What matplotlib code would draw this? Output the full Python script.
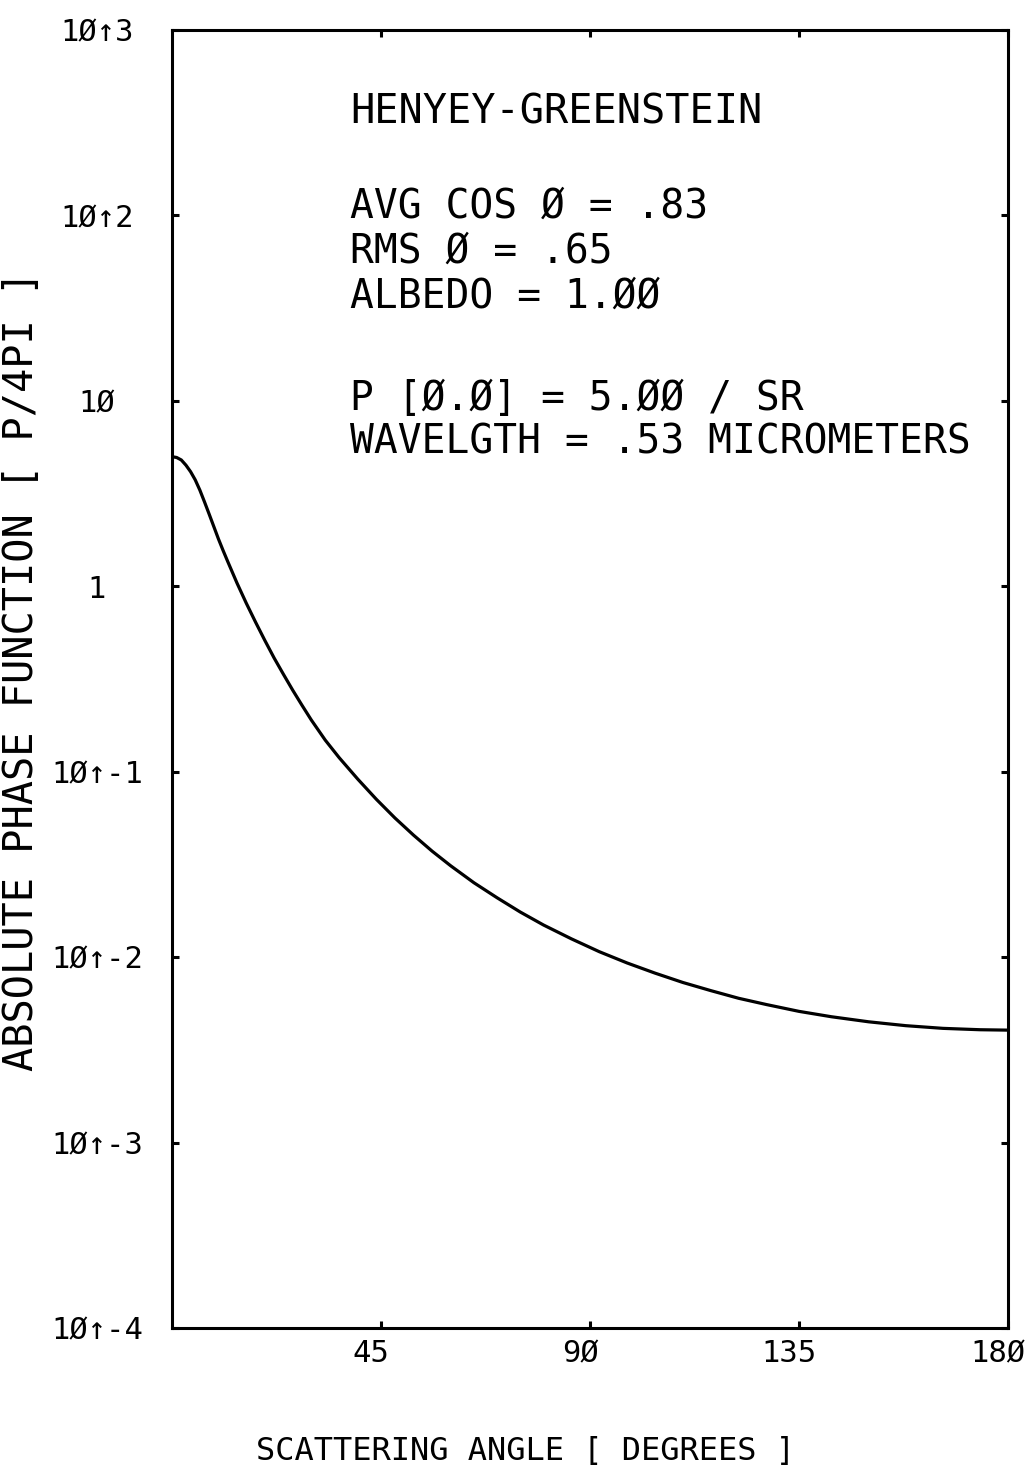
import matplotlib
matplotlib.use("Agg")
import matplotlib.pyplot as plt
import matplotlib.transforms as mtransforms

# scattering angle (deg) and phase function P/4PI
angle = [0, 1, 2, 3, 4, 5, 6, 7, 8, 9, 10, 11, 12, 14, 16, 18, 20, 22, 24,
         26, 28, 30, 33, 36, 40, 44, 48, 52, 56, 60, 65, 70, 75, 80, 86, 92,
         98, 104, 110, 116, 122, 128, 135, 142, 150, 158, 166, 174, 180]
phase = [5.0, 4.95, 4.8, 4.5, 4.15, 3.75, 3.3, 2.85, 2.45, 2.1, 1.8, 1.56,
         1.36, 1.04, 0.81, 0.64, 0.51, 0.41, 0.335, 0.275, 0.228, 0.19,
         0.148, 0.119, 0.0912, 0.0710, 0.0563, 0.0455, 0.0373, 0.0311,
         0.0252, 0.0209, 0.0175, 0.0149, 0.01255, 0.0107, 0.0093, 0.0082,
         0.0073, 0.0066, 0.0060, 0.00555, 0.0051, 0.00477, 0.00448, 0.00427,
         0.00413, 0.00406, 0.00404]

x_ticks = [45, 90, 135, 180]
x_labels = ["45", "9Ø", "135", "18Ø"]
y_ticks = [1e3, 1e2, 1e1, 1e0, 1e-1, 1e-2, 1e-3, 1e-4]
y_labels = ["1Ø↑3", "1Ø↑2", "1Ø", "1", "1Ø↑-1", "1Ø↑-2", "1Ø↑-3", "1Ø↑-4"]

info_title = "HENYEY-GREENSTEIN"
info_lines = ["AVG COS Ø = .83", "RMS Ø = .65", "ALBEDO = 1.ØØ"]
info_lines2 = ["P [Ø.Ø] = 5.ØØ / SR", "WAVELGTH = .53 MICROMETERS"]

plt.rcParams["font.family"] = ["DejaVu Sans Mono", "DejaVu Sans"]

W, H = 1026, 1473
fig = plt.figure(figsize=(W / 100, H / 100), dpi=100)
ax = fig.add_axes([172 / W, 1 - 1328 / H, (1008 - 172) / W, (1328 - 30) / H])

ax.plot(angle, phase, color="black", lw=2.3, solid_capstyle="round",
        solid_joinstyle="round")
ax.set_yscale("log")
ax.set_xlim(0, 180)
ax.set_ylim(1e-4, 1e3)

for s in ax.spines.values():
    s.set_linewidth(2.2)

ax.set_xticks(x_ticks, x_labels)
ax.set_yticks(y_ticks, y_labels)
ax.minorticks_off()
ax.tick_params(direction="in", length=5, width=2.2, top=True, right=True,
               colors="black")
ax.tick_params(axis="x", labelsize=22, pad=8)
ax.tick_params(axis="y", labelsize=22, pad=54)
for lab in ax.get_yticklabels():
    lab.set_ha("center")
shift = mtransforms.ScaledTranslation(-0.10, 0, fig.dpi_scale_trans)
for lab in ax.get_xticklabels():
    lab.set_transform(lab.get_transform() + shift)

ax.set_xlabel("SCATTERING ANGLE [ DEGREES ]", fontsize=23, va="center")
ax.xaxis.set_label_coords(0.4234, -0.0948)
ax.set_ylabel("ABSOLUTE PHASE FUNCTION [ P/4PI ]", fontsize=29, va="center")
ax.yaxis.set_label_coords(-0.179, 0.506)

# parameter block in the upper part of the plot
fig.text(350 / W, 1 - 123 / H, info_title, fontsize=29, va="baseline")
for i, line in enumerate(info_lines):
    fig.text(350 / W, 1 - (218 + 45 * i) / H, line, fontsize=28.5,
             va="baseline")
for i, line in enumerate(info_lines2):
    fig.text(350 / W, 1 - (410 + 43 * i) / H, line, fontsize=28.5,
             va="baseline")

fig.savefig("out.png", dpi=100, facecolor="white")
